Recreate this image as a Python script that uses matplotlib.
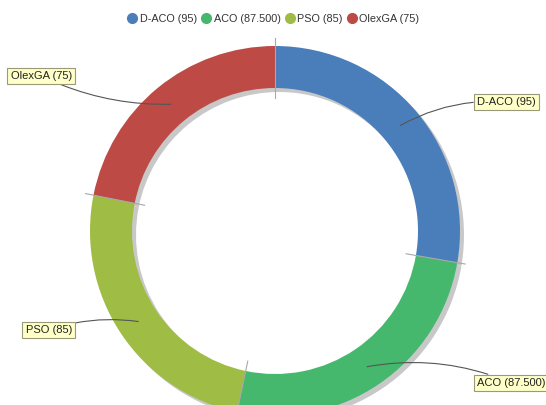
import numpy as np
import matplotlib
matplotlib.use("Agg")
import matplotlib.pyplot as plt
from matplotlib.lines import Line2D

plt.rcParams['font.family'] = ['Liberation Sans', 'DejaVu Sans']

# ring data
names = ["D-ACO", "ACO", "PSO", "OlexGA"]
values = [95, 87.5, 85, 75]
colors = ["#4a7ebb", "#45b86e", "#9fbc45", "#bd4a45"]


def fmt(v):
    return str(int(v)) if float(v).is_integer() else f"{v:.3f}"


labels = [f"{n} ({fmt(v)})" for n, v in zip(names, values)]

# geometry in pixel units (axes fills the whole canvas)
W, H = 546, 405
cx, cy = 275, H - 231
r_out, ring_w = 185, 42

# where each callout box sits
box_pos = [(477, 102), (477, 383), (72, 330), (72, 76)]
box_ha = ["left", "left", "right", "right"]
arc_rad = [0.15, 0.15, -0.12, 0.12]

fig = plt.figure(figsize=(W / 100, H / 100), dpi=100)
ax = fig.add_axes([0, 0, 1, 1])

# drop shadow under the ring
ax.pie(values, radius=r_out, center=(cx + 4, cy - 4), startangle=90,
       counterclock=False, colors=["#c8c8c8"] * len(values),
       wedgeprops=dict(width=ring_w, linewidth=0))
ax.pie(values, radius=r_out, center=(cx, cy), startangle=90,
       counterclock=False, colors=colors,
       wedgeprops=dict(width=ring_w, linewidth=0))
ax.set_xlim(0, W)
ax.set_ylim(0, H)
ax.set_aspect("equal")
ax.axis("off")

# thin separators at slice boundaries
total = sum(values)
bounds = 90 - 360 * np.cumsum([0] + values[:-1]) / total
for a in np.radians(bounds):
    r0, r1 = r_out - ring_w - 10, r_out + 8
    ax.plot([cx + r0 * np.cos(a), cx + r1 * np.cos(a)],
            [cy + r0 * np.sin(a), cy + r1 * np.sin(a)],
            color="#a8a8a8", lw=0.8, zorder=5)

# callouts
mids = 90 - 360 * (np.cumsum(values) - np.array(values) / 2) / total
r_mid = r_out - ring_w / 2
for lab, m, (bx, by), ha, rad in zip(labels, np.radians(mids), box_pos, box_ha, arc_rad):
    px, py = cx + r_mid * np.cos(m), cy + r_mid * np.sin(m)
    ax.annotate(lab, xy=(px, py), xytext=(bx, H - by), ha=ha, va="center",
                fontsize=8, color="#222222", zorder=6,
                bbox=dict(boxstyle="square,pad=0.3", fc="#ffffc8", ec="#9a9a7a", lw=0.8),
                arrowprops=dict(arrowstyle="-", color="#555555", lw=0.8,
                                connectionstyle=f"arc3,rad={rad}",
                                shrinkA=0, shrinkB=0))

# legend across the top
handles = [Line2D([], [], marker="o", ls="", color=c, markersize=7) for c in colors]
ax.legend(handles, labels, loc="upper center", bbox_to_anchor=(0.5, 0.99),
          ncol=4, frameon=False, fontsize=7.8, handletextpad=0.2,
          columnspacing=0.35, handlelength=1.0, labelcolor="#333333")

fig.savefig("out.png", dpi=100)
